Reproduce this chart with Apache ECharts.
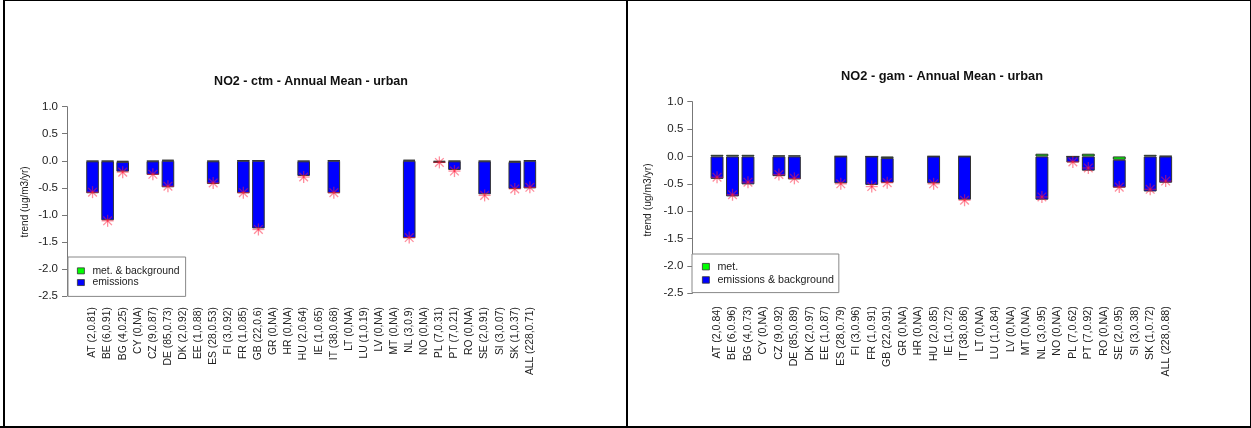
<!DOCTYPE html>
<html>
<head>
<meta charset="utf-8">
<script src="https://cdn.jsdelivr.net/npm/echarts@6/dist/echarts.min.js"></script>
<style>
html,body{margin:0;padding:0;background:#fff;}
#chart{width:1251px;height:428px;}
</style>
</head>
<body>
<div id="chart"></div>
<script>
// ---------- data ----------
const countries = ['AT','BE','BG','CY','CZ','DE','DK','EE','ES','FI','FR','GB','GR','HR','HU','IE','IT','LT','LU','LV','MT','NL','NO','PL','PT','RO','SE','SI','SK','ALL'];

const labelsCtm = ['AT (2,0.81)','BE (6,0.91)','BG (4,0.25)','CY (0,NA)','CZ (9,0.87)','DE (85,0.73)','DK (2,0.92)','EE (1,0.88)','ES (28,0.53)','FI (3,0.92)','FR (1,0.85)','GB (22,0.6)','GR (0,NA)','HR (0,NA)','HU (2,0.64)','IE (1,0.65)','IT (38,0.68)','LT (0,NA)','LU (1,0.19)','LV (0,NA)','MT (0,NA)','NL (3,0.9)','NO (0,NA)','PL (7,0.31)','PT (7,0.21)','RO (0,NA)','SE (2,0.91)','SI (3,0.07)','SK (1,0.37)','ALL (228,0.71)'];
const labelsGam = ['AT (2,0.84)','BE (6,0.96)','BG (4,0.73)','CY (0,NA)','CZ (9,0.92)','DE (85,0.89)','DK (2,0.97)','EE (1,0.87)','ES (28,0.79)','FI (3,0.96)','FR (1,0.91)','GB (22,0.91)','GR (0,NA)','HR (0,NA)','HU (2,0.85)','IE (1,0.72)','IT (38,0.86)','LT (0,NA)','LU (1,0.84)','LV (0,NA)','MT (0,NA)','NL (3,0.95)','NO (0,NA)','PL (7,0.62)','PT (7,0.92)','RO (0,NA)','SE (2,0.95)','SI (3,0.38)','SK (1,0.72)','ALL (228,0.88)'];

// ctm panel: met. & background / emissions / observed trend (stars)
const metCtm   = [-0.01,-0.01,-0.02,null,-0.01, 0.02,null,null,-0.01,null, 0.01, 0.01,null,null,-0.01,null, 0.01,null,null,null,null, 0.02,null,-0.02,-0.01,null,-0.01,null,-0.02, 0.01];
const emisCtm  = [-0.59,-1.09,-0.18,null,-0.25,-0.49,null,null,-0.42,null,-0.60,-1.25,null,null,-0.27,null,-0.60,null,null,null,null,-1.43,null,-0.02,-0.16,null,-0.61,null,-0.50,-0.51];
const starCtm  = [-0.58,-1.11,-0.21,null,-0.25,-0.47,null,null,-0.41,null,-0.59,-1.27,null,null,-0.30,null,-0.59,null,null,null,null,-1.42,null,-0.03,-0.19,null,-0.64,null,-0.52,-0.49];

// gam panel: met. / emissions & background / observed trend (stars)
const metGam   = [ 0.03, 0.03, 0.03,null, 0.02, 0.02,null,null, 0.005,null, 0.0,-0.03,null,null, 0.005,null, 0.005,null,null,null,null, 0.05,null, 0.0, 0.05,null,-0.06,null, 0.03, 0.01];
const emisGam  = [-0.41,-0.73,-0.51,null,-0.36,-0.42,null,null,-0.49,null,-0.52,-0.45,null,null,-0.49,null,-0.79,null,null,null,null,-0.79,null,-0.11,-0.26,null,-0.51,null,-0.64,-0.48];
const starGam  = [-0.38,-0.70,-0.47,null,-0.33,-0.40,null,null,-0.50,null,-0.55,-0.48,null,null,-0.50,null,-0.80,null,null,null,null,-0.74,null,-0.10,-0.21,null,-0.56,null,-0.60,-0.45];

const yTicks = { min: -2.5, max: 1.0, interval: 0.5 };

// ---------- chart ----------
const FONT = 'Liberation Sans, Arial, Helvetica, sans-serif';
const TXT = '#222';
const chart = echarts.init(document.getElementById('chart'), null, {renderer: 'canvas'});

function starRender(params, api) {
  const v = api.value(1);
  const p = api.coord([api.value(0), v]);
  const r = 6, d = r * 0.72;
  const st = {stroke: 'rgba(255,30,60,0.5)', lineWidth: 1.3};
  return {
    type: 'group',
    children: [
      {type: 'line', shape: {x1: p[0]-r, y1: p[1], x2: p[0]+r, y2: p[1]}, style: st},
      {type: 'line', shape: {x1: p[0], y1: p[1]-r, x2: p[0], y2: p[1]+r}, style: st},
      {type: 'line', shape: {x1: p[0]-d, y1: p[1]-d, x2: p[0]+d, y2: p[1]+d}, style: st},
      {type: 'line', shape: {x1: p[0]-d, y1: p[1]+d, x2: p[0]+d, y2: p[1]-d}, style: st}
    ]
  };
}
function pts(arr) {
  const out = [];
  arr.forEach((v, i) => { if (v !== null) out.push([i, v]); });
  return out;
}

const panels = [
  {labels: labelsCtm, met: metCtm, emis: emisCtm, star: starCtm,
   metName: 'met. & background', emisName: 'emissions',
   gridLeft: 85.0, gridWidth: 452.4, top: 106.7, height: 189.3, yOffset: 18, barW: 12.6,
   labelMargin: 11, labelSize: 10.3},
  {labels: labelsGam, met: metGam, emis: emisGam, star: starGam,
   metName: 'met.', emisName: 'emissions & background',
   gridLeft: 709.3, gridWidth: 464.1, top: 101.7, height: 191.6, yOffset: 17, barW: 12.9,
   labelMargin: 13, labelSize: 10.6}
];

const option = {
  animation: false,
  backgroundColor: '#fff',
  grid: panels.map(p => ({left: p.gridLeft, width: p.gridWidth, top: p.top, height: p.height, containLabel: false})),
  xAxis: panels.map((p, k) => ({
    type: 'category', gridIndex: k, data: p.labels,
    axisLine: {show: false}, axisTick: {show: false}, splitLine: {show: false},
    axisLabel: {rotate: 90, interval: 0, margin: p.labelMargin, fontSize: p.labelSize, color: TXT, fontFamily: FONT}
  })),
  yAxis: panels.map((p, k) => ({
    type: 'value', gridIndex: k, min: yTicks.min, max: yTicks.max, interval: yTicks.interval,
    offset: p.yOffset,
    axisLine: {show: true, lineStyle: {color: '#777', width: 1}},
    axisTick: {show: true, length: 5, lineStyle: {color: '#777', width: 1}},
    splitLine: {show: false},
    axisLabel: {margin: 9, fontSize: 11.5, color: TXT, fontFamily: FONT, formatter: v => v.toFixed(1)}
  })),
  legend: [
    {data: ['met. & background', 'emissions'], orient: 'vertical', left: 68, top: 257,
     padding: [8, 6, 8, 9], itemWidth: 7, itemHeight: 6, itemGap: 0, icon: 'rect',
     selectedMode: false, borderColor: '#888', borderWidth: 1, backgroundColor: '#fff', borderRadius: 0,
     itemStyle: {borderColor: '#333', borderWidth: 0.8},
     textStyle: {fontSize: 10.4, lineHeight: 11.7, color: TXT, fontFamily: FONT, padding: [0,0,0,3]}},
    {data: ['met.', 'emissions & background'], orient: 'vertical', left: 692, top: 254,
     padding: [6, 5, 6, 10], itemWidth: 7, itemHeight: 6.5, itemGap: 0, icon: 'rect',
     selectedMode: false, borderColor: '#888', borderWidth: 1, backgroundColor: '#fff', borderRadius: 0,
     itemStyle: {borderColor: '#333', borderWidth: 0.8},
     textStyle: {fontSize: 10.7, lineHeight: 13.3, color: TXT, fontFamily: FONT, padding: [0,0,0,3]}}
  ],
  series: [],
  graphic: [
    {type: 'text', x: 311, y: 82, style: {text: 'NO2 - ctm - Annual Mean - urban', font: 'bold 12.5px ' + FONT, fill: '#111', textAlign: 'center', textVerticalAlign: 'middle'}},
    {type: 'text', x: 942, y: 76, style: {text: 'NO2 - gam - Annual Mean - urban', font: 'bold 12.8px ' + FONT, fill: '#111', textAlign: 'center', textVerticalAlign: 'middle'}},
    {type: 'text', x: 25, y: 202, rotation: Math.PI / 2, style: {text: 'trend (ug/m3/yr)', font: '10px ' + FONT, fill: TXT, textAlign: 'center', textVerticalAlign: 'middle'}},
    {type: 'text', x: 648, y: 200, rotation: Math.PI / 2, style: {text: 'trend (ug/m3/yr)', font: '10.3px ' + FONT, fill: TXT, textAlign: 'center', textVerticalAlign: 'middle'}},
    // frames
    {type: 'line', shape: {x1: 3, y1: 0.5, x2: 1251, y2: 0.5}, style: {stroke: '#000', lineWidth: 1}},
    {type: 'line', shape: {x1: 0, y1: 427, x2: 1251, y2: 427}, style: {stroke: '#000', lineWidth: 2}},
    {type: 'line', shape: {x1: 4, y1: 0, x2: 4, y2: 428}, style: {stroke: '#000', lineWidth: 2}},
    {type: 'line', shape: {x1: 627, y1: 0, x2: 627, y2: 428}, style: {stroke: '#000', lineWidth: 2}},
    {type: 'line', shape: {x1: 1250.5, y1: 0, x2: 1250.5, y2: 428}, style: {stroke: '#000', lineWidth: 1}}
  ]
};

panels.forEach((p, k) => {
  option.series.push({
    name: p.metName, type: 'bar', xAxisIndex: k, yAxisIndex: k, stack: 'S' + k,
    data: p.met, barWidth: p.barW, z: 2,
    itemStyle: {color: '#00ff00', borderColor: '#333', borderWidth: 1}
  });
  option.series.push({
    name: p.emisName, type: 'bar', xAxisIndex: k, yAxisIndex: k, stack: 'S' + k,
    data: p.emis, barWidth: p.barW, z: 2,
    itemStyle: {color: '#0000ff', borderColor: '#333', borderWidth: 1}
  });
  option.series.push({
    name: 'obs' + k, type: 'custom', xAxisIndex: k, yAxisIndex: k, z: 5,
    data: pts(p.star), renderItem: starRender
  });
});

chart.setOption(option);
</script>
</body>
</html>
